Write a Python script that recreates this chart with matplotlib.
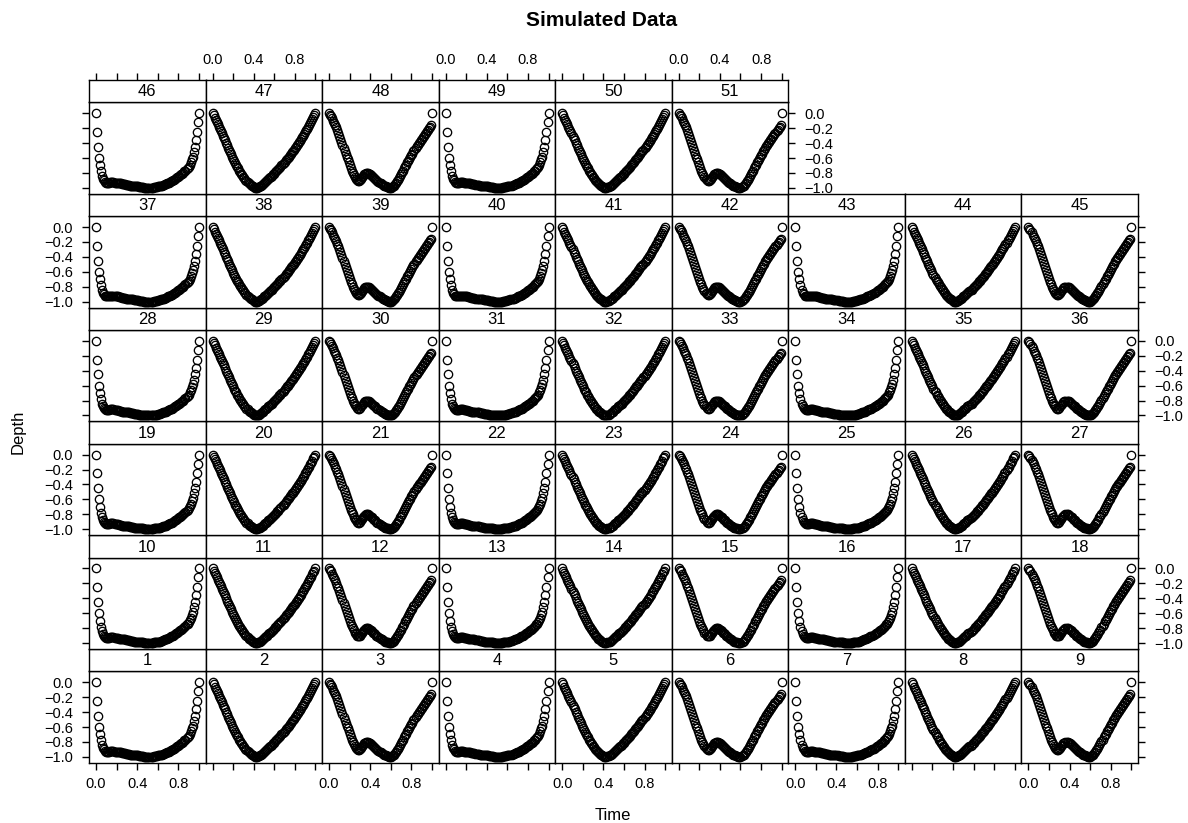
import numpy as np
import matplotlib
matplotlib.use("Agg")
import matplotlib.pyplot as plt

plt.rcParams["font.family"] = ["Liberation Sans", "DejaVu Sans"]

# time grid of each simulated profile (0.00 .. 1.00)
time = np.round(np.arange(101) * 0.01, 2)

# depth profiles (U = flat bottom, V = single dip, W = dip with bump)
depth_u = [
    0.00, -0.25, -0.45, -0.60, -0.70, -0.78, -0.84, -0.88, -0.90, -0.92, -0.93,
    -0.93, -0.93, -0.93, -0.92, -0.92, -0.92, -0.92, -0.93, -0.93, -0.93,
    -0.93, -0.94, -0.94, -0.94, -0.95, -0.95, -0.95, -0.95, -0.96, -0.96,
    -0.96, -0.96, -0.97, -0.97, -0.97, -0.97, -0.98, -0.98, -0.98, -0.98,
    -0.98, -0.99, -0.99, -0.99, -0.99, -0.99, -1.00, -1.00, -1.00, -1.00,
    -1.00, -1.00, -1.00, -1.00, -1.00, -0.99, -0.99, -0.99, -0.99, -0.98,
    -0.98, -0.98, -0.97, -0.97, -0.96, -0.96, -0.95, -0.95, -0.94, -0.93,
    -0.93, -0.92, -0.91, -0.91, -0.90, -0.89, -0.88, -0.87, -0.86, -0.85,
    -0.84, -0.83, -0.82, -0.81, -0.80, -0.78, -0.77, -0.75, -0.74, -0.72,
    -0.69, -0.66, -0.62, -0.58, -0.52, -0.45, -0.36, -0.25, -0.12, 0.00,
]
depth_v = [
    0.00, -0.03, -0.06, -0.09, -0.12, -0.15, -0.18, -0.21, -0.24, -0.27, -0.30,
    -0.33, -0.36, -0.40, -0.43, -0.46, -0.49, -0.52, -0.55, -0.58, -0.61,
    -0.64, -0.67, -0.69, -0.72, -0.74, -0.77, -0.79, -0.81, -0.83, -0.85,
    -0.87, -0.89, -0.91, -0.92, -0.94, -0.95, -0.96, -0.97, -0.98, -0.99,
    -1.00, -1.00, -1.00, -0.99, -0.99, -0.98, -0.97, -0.96, -0.95, -0.93,
    -0.92, -0.91, -0.90, -0.88, -0.87, -0.86, -0.85, -0.84, -0.82, -0.81,
    -0.79, -0.78, -0.76, -0.75, -0.73, -0.72, -0.70, -0.68, -0.67, -0.65,
    -0.63, -0.61, -0.60, -0.58, -0.56, -0.54, -0.52, -0.51, -0.49, -0.47,
    -0.45, -0.43, -0.41, -0.39, -0.37, -0.35, -0.32, -0.30, -0.28, -0.25,
    -0.23, -0.21, -0.18, -0.16, -0.13, -0.11, -0.08, -0.05, -0.03, 0.00,
]
depth_w = [
    0.00, -0.02, -0.04, -0.07, -0.10, -0.13, -0.16, -0.19, -0.23, -0.26, -0.30,
    -0.34, -0.38, -0.42, -0.46, -0.50, -0.54, -0.58, -0.62, -0.66, -0.70,
    -0.74, -0.77, -0.80, -0.83, -0.86, -0.88, -0.90, -0.91, -0.91, -0.90,
    -0.88, -0.86, -0.84, -0.82, -0.81, -0.80, -0.80, -0.80, -0.81, -0.82,
    -0.83, -0.84, -0.86, -0.87, -0.88, -0.90, -0.91, -0.92, -0.93, -0.94,
    -0.95, -0.96, -0.97, -0.98, -0.98, -0.99, -0.99, -1.00, -1.00, -1.00,
    -0.99, -0.98, -0.97, -0.95, -0.93, -0.91, -0.89, -0.87, -0.84, -0.82,
    -0.79, -0.77, -0.74, -0.71, -0.69, -0.66, -0.64, -0.61, -0.59, -0.56,
    -0.54, -0.51, -0.49, -0.46, -0.44, -0.42, -0.40, -0.38, -0.36, -0.34,
    -0.32, -0.30, -0.28, -0.26, -0.24, -0.22, -0.20, -0.18, -0.16, 0.00,
]
profiles = {"U": depth_u, "V": depth_v, "W": depth_w}

panel_ids = list(range(1, 52))
shape_cycle = ["U", "V", "W"]          # panel 1 -> U, 2 -> V, 3 -> W, 4 -> U ...

x_ticks = [0.0, 0.2, 0.4, 0.6, 0.8, 1.0]
x_labels = ["0.0", "", "0.4", "", "0.8", ""]
y_ticks = [0.0, -0.2, -0.4, -0.6, -0.8, -1.0]
y_labels = ["0.0", "\u22120.2", "\u22120.4", "\u22120.6", "\u22120.8", "\u22121.0"]

# layout in pixels
W, H = 1188, 823
X0, TOP = 89.0, 80.0
COL_W = (1138.0 - 89.0) / 9
ROW_H = (762.8 - 80.0) / 6
STRIP_H = 22.3
PANEL_H = ROW_H - STRIP_H
XLIM = (-0.068, 1.065)
YLIM = (-1.08, 0.147)
LW = 1.0


def box(x, y_top, w, h):
    return [x / W, 1 - (y_top + h) / H, w / W, h / H]


fig = plt.figure(figsize=(W / 100, H / 100), dpi=100)

for n in panel_ids:
    row = (n - 1) // 9          # 0 = bottom row
    col = (n - 1) % 9
    strip_top = TOP + (5 - row) * ROW_H
    left = X0 + col * COL_W

    ax = fig.add_axes(box(left, strip_top + STRIP_H, COL_W, PANEL_H))
    sax = fig.add_axes(box(left, strip_top, COL_W, STRIP_H))

    ax.plot(time, profiles[shape_cycle[(n - 1) % 3]], linestyle="none", marker="o",
            markersize=6.0, markerfacecolor="none", markeredgecolor="black",
            markeredgewidth=0.95)
    ax.set_xlim(XLIM); ax.set_ylim(YLIM)
    sax.set_xlim(XLIM); sax.set_ylim(0, 1)
    sax.text(0.5, 0.47, str(n), transform=sax.transAxes, ha="center", va="center",
             fontsize=12)

    for a in (ax, sax):
        for sp in a.spines.values():
            sp.set_linewidth(LW)

    sax.set_yticks([])
    sax.set_xticks(x_ticks)
    sax.set_xticklabels(x_labels)
    show_top = row == 5
    sax.tick_params(axis="x", direction="out", length=5, width=LW, pad=4.5,
                    labelsize=10.5, bottom=False, labelbottom=False,
                    top=show_top, labeltop=show_top and col % 2 == 1)

    ax.set_xticks(x_ticks)
    ax.set_xticklabels(x_labels)
    ax.set_yticks(y_ticks)
    ax.set_yticklabels(y_labels)
    ax.tick_params(axis="x", direction="out", length=5, width=LW, pad=5.5,
                   labelsize=10.5, top=False, labeltop=False,
                   bottom=row == 0, labelbottom=row == 0 and col % 2 == 0)
    rightmost = col == 8 or (row == 5 and col == 5)
    ax.tick_params(axis="y", direction="out", length=5, width=LW, pad=6.5,
                   labelsize=10.5,
                   left=col == 0, labelleft=col == 0 and row % 2 == 0,
                   right=rightmost, labelright=rightmost and row % 2 == 1)

fig.text(601.5 / W, 1 - 20 / H, "Simulated Data", ha="center", va="center",
         fontsize=15, fontweight="bold")
fig.text(613 / W, 1 - 815 / H, "Time", ha="center", va="center", fontsize=12)
fig.text(18 / W, 1 - 432 / H, "Depth", ha="center", va="center", fontsize=12,
         rotation=90)

fig.savefig("out.png", dpi=100, facecolor="white")
